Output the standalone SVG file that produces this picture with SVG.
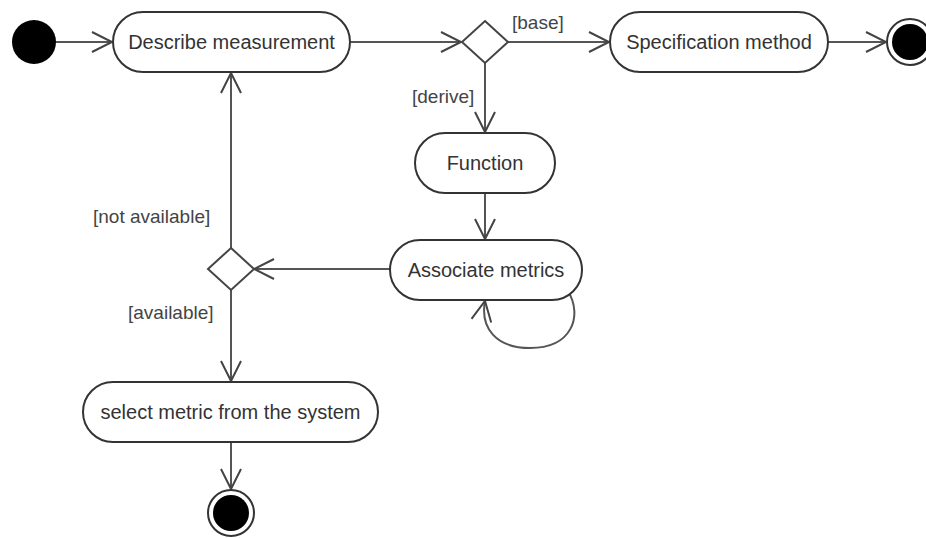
<svg xmlns="http://www.w3.org/2000/svg" width="926" height="538" viewBox="0 0 926 538">
  <defs>
    <marker id="open" markerUnits="userSpaceOnUse" markerWidth="26" markerHeight="26" viewBox="-22 -13 26 26" refX="0" refY="0" orient="auto">
      <path d="M -20 -10 L 0 0 L -20 10" fill="none" stroke="#444" stroke-width="2"/>
    </marker>
  </defs>
  <style>
    .act { fill: #fff; stroke: #333; stroke-width: 2; }
    .lbl { font-family: "Liberation Sans", Arial, sans-serif; font-size: 20px; fill: #333; text-anchor: middle; }
    .grd { font-family: "Liberation Sans", Arial, sans-serif; font-size: 19px; fill: #444; }
    .flow { fill: none; stroke: #555; stroke-width: 2; marker-end: url(#open); }
    .dec { fill: #fff; stroke: #444; stroke-width: 2; }
  </style>
  <rect width="926" height="538" fill="#fff"/>

  <g id="connectors">
    <line class="flow" x1="56" y1="42" x2="112" y2="42"/>
    <line class="flow" x1="350" y1="42" x2="461" y2="42"/>
    <line class="flow" x1="508" y1="42" x2="609" y2="42"/>
    <line class="flow" x1="828" y1="42" x2="886" y2="42"/>
    <line class="flow" x1="485" y1="63" x2="485" y2="132"/>
    <line class="flow" x1="485" y1="193" x2="485" y2="239"/>
    <path class="flow" d="M 568 291 C 583 316 572 348 530 348 C 496 348 480 328 485 301"/>
    <line class="flow" x1="390" y1="269" x2="254" y2="269"/>
    <line class="flow" x1="231" y1="248" x2="231" y2="73"/>
    <line class="flow" x1="231" y1="290" x2="231" y2="381"/>
    <line class="flow" x1="231" y1="442" x2="231" y2="489"/>
    <text class="grd" x="512" y="29">[base]</text>
    <text class="grd" x="412" y="103">[derive]</text>
    <text class="grd" x="93" y="223">[not available]</text>
    <text class="grd" x="128" y="319">[available]</text>
  </g>

  <g id="start">
    <circle cx="34" cy="42" r="22" fill="#000"/>
  </g>

  <g id="describe">
    <rect class="act" x="113" y="12" width="237" height="60" rx="30"/>
    <text class="lbl" x="231.5" y="49">Describe measurement</text>
  </g>

  <g id="decision-kind">
    <polygon class="dec" points="485,21 508,42 485,63 462,42"/>
  </g>

  <g id="specification">
    <rect class="act" x="610" y="12" width="218" height="60" rx="30"/>
    <text class="lbl" x="719" y="49">Specification method</text>
  </g>

  <g id="end-spec">
    <circle cx="910" cy="42" r="23" fill="#fff" stroke="#333" stroke-width="2"/>
    <circle cx="910" cy="42" r="18" fill="#000"/>
  </g>

  <g id="function">
    <rect class="act" x="415" y="133" width="140" height="60" rx="30"/>
    <text class="lbl" x="485" y="170">Function</text>
  </g>

  <g id="associate">
    <rect class="act" x="390" y="240" width="192" height="60" rx="30"/>
    <text class="lbl" x="486" y="277">Associate metrics</text>
  </g>

  <g id="decision-availability">
    <polygon class="dec" points="231,248 254,269 231,290 208,269"/>
  </g>

  <g id="select">
    <rect class="act" x="83" y="382" width="295" height="60" rx="30"/>
    <text class="lbl" x="230.5" y="419">select metric from the system</text>
  </g>

  <g id="end-select">
    <circle cx="231" cy="513" r="23" fill="#fff" stroke="#333" stroke-width="2"/>
    <circle cx="231" cy="513" r="18" fill="#000"/>
  </g>
</svg>
